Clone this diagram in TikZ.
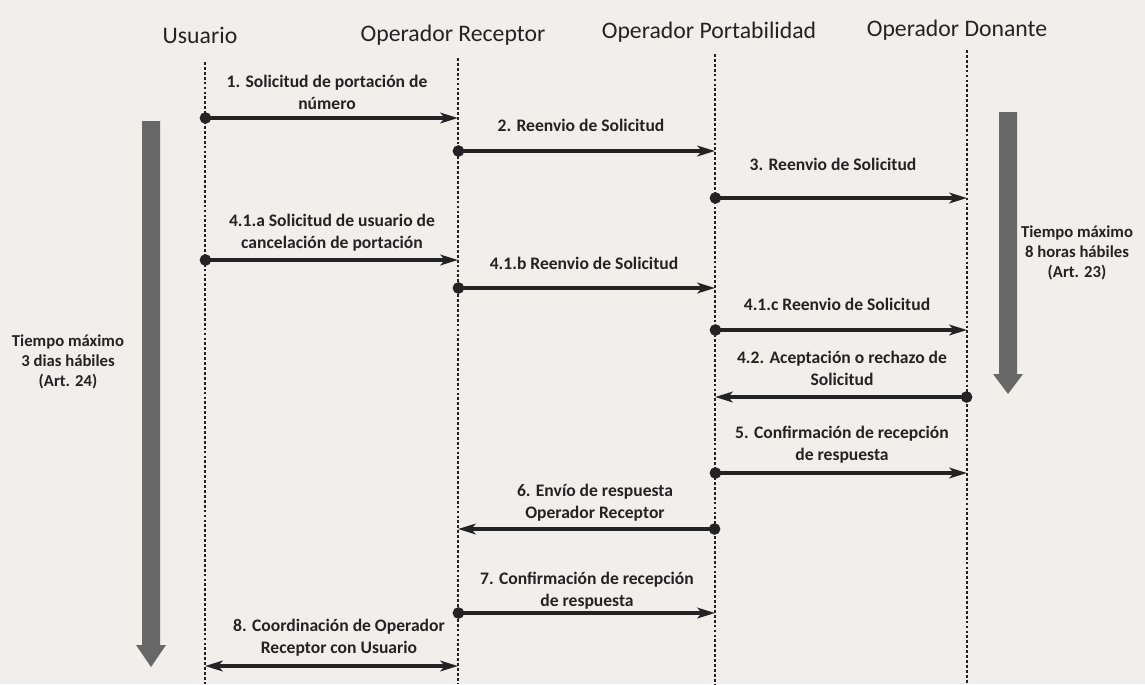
\documentclass[tikz,border=0pt]{standalone}
\usepackage{fontspec}
\setmainfont{Carlito}
\usetikzlibrary{arrows.meta}

\definecolor{paper}{RGB}{241,239,235}
\definecolor{ink}{RGB}{35,35,35}
\definecolor{bargray}{RGB}{104,104,104}

\tikzset{
  actor/.style={font=\fontsize{13.5}{16}\selectfont, text=ink},
  lifeline/.style={ink, line width=1.4pt, dash pattern=on 1.6pt off 1.2pt},
  msg/.style={ink, line width=1.9pt, shorten <=-3pt,
    {Circle[length=6.5pt]}-{Stealth[length=10pt,width=6pt,inset=2.5pt]}},
  both/.style={shorten <=0pt,
    {Stealth[length=10pt,width=6pt,inset=2.5pt]}-{Stealth[length=10pt,width=6pt,inset=2.5pt]}},
  msgtxt/.style={font=\bfseries\fontsize{10}{12.5}\selectfont, text=ink, align=center},
  note/.style={font=\bfseries\fontsize{9.5}{11.3}\selectfont, text=ink, align=center}
}

\begin{document}
\begin{tikzpicture}[x=0.02cm, y=-0.02cm]
    \useasboundingbox (0,0) rectangle (1145,684);
    \fill[paper] (0,0) rectangle (1145,684);

    % Actors
    \node[actor] (hU) at (200,35) {Usuario};
    \node[actor] (hR) at (453,35) {Operador Receptor};
    \node[actor] (hP) at (709,32) {Operador Portabilidad};
    \node[actor] (hD) at (957,30) {Operador Donante};

    % Lifelines
    \coordinate (U) at (205,62);
    \coordinate (R) at (458,58);
    \coordinate (P) at (715,54);
    \coordinate (D) at (967,50);
    \draw[lifeline] (U) -- (U |- 0,684);
    \draw[lifeline] (R) -- (R |- 0,684);
    \draw[lifeline] (P) -- (P |- 0,684);
    \draw[lifeline] (D) -- (D |- 0,684);

    % Time limits
    \fill[bargray] (142,121) -- (160,121) -- (160,645) -- (166,645) -- (151,667)
        -- (136,645) -- (142,645) -- cycle;
    \node[note] (tU) at (68,362) {Tiempo máximo\\3 dias hábiles\\(Art. 24)};
    \fill[bargray] (999,112) -- (1017,112) -- (1017,374) -- (1023,374) -- (1008,394)
        -- (993,374) -- (999,374) -- cycle;
    \node[note] (tD) at (1077,253) {Tiempo máximo\\8 horas hábiles\\(Art. 23)};

    % Rows of the messages
    \coordinate (m1) at (0,118);
    \coordinate (m2) at (0,151);
    \coordinate (m3) at (0,198);
    \coordinate (m4a) at (0,260);
    \coordinate (m4b) at (0,288);
    \coordinate (m4c) at (0,330);
    \coordinate (m42) at (0,397);
    \coordinate (m5) at (0,473);
    \coordinate (m6) at (0,529);
    \coordinate (m7) at (0,613);
    \coordinate (m8) at (0,666);

    % Messages
    \node[msgtxt] (t1) at (327,92) {1. Solicitud de portación de\\número};
    \draw[msg] (U |- m1) -- (R |- m1);
    \node[msgtxt] (t2) at (581,125) {2. Reenvio de Solicitud};
    \draw[msg] (R |- m2) -- (P |- m2);
    \node[msgtxt] (t3) at (833,164) {3. Reenvio de Solicitud};
    \draw[msg] (P |- m3) -- (D |- m3);
    \node[msgtxt] (t4a) at (332,233) {4.1.a Solicitud de usuario de\\cancelación de portación};
    \draw[msg] (U |- m4a) -- (R |- m4a);
    \node[msgtxt] (t4b) at (584,263) {4.1.b Reenvio de Solicitud};
    \draw[msg] (R |- m4b) -- (P |- m4b);
    \node[msgtxt] (t4c) at (837,304) {4.1.c Reenvio de Solicitud};
    \draw[msg] (P |- m4c) -- (D |- m4c);
    \node[msgtxt] (t42) at (842,368) {4.2. Aceptación o rechazo de\\Solicitud};
    \draw[msg] (D |- m42) -- (P |- m42);
    \node[msgtxt] (t5) at (842,445) {5. Confirmación de recepción\\de respuesta};
    \draw[msg] (P |- m5) -- (D |- m5);
    \node[msgtxt] (t6) at (595,503) {6. Envío de respuesta\\Operador Receptor};
    \draw[msg] (P |- m6) -- (R |- m6);
    \node[msgtxt] (t7) at (587,591) {7. Confirmación de recepción\\de respuesta};
    \draw[msg] (R |- m7) -- (P |- m7);
    \node[msgtxt] (t8) at (339,638) {8. Coordinación de Operador\\Receptor con Usuario};
    \draw[msg, both] (U |- m8) -- (R |- m8);
\end{tikzpicture}
\end{document}
